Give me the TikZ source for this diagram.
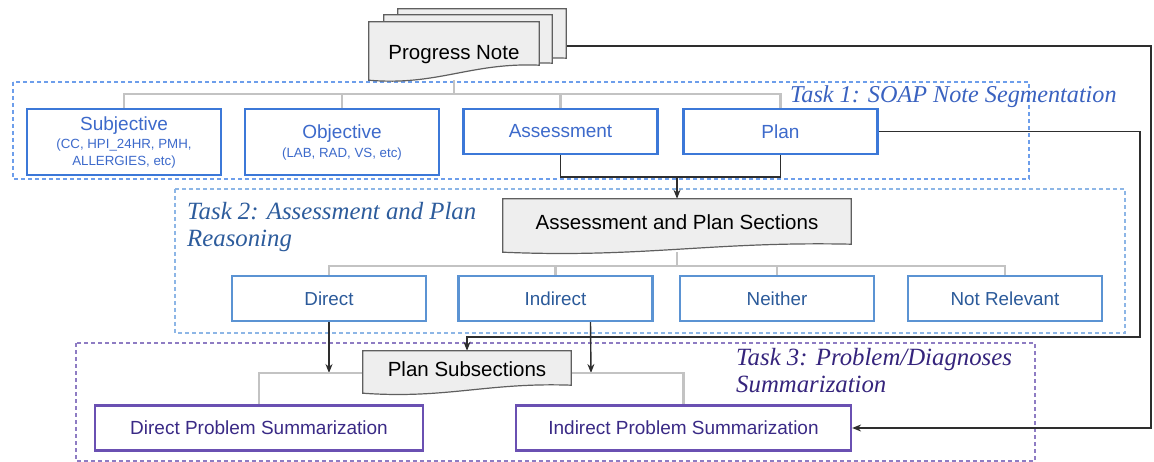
\documentclass[tikz,border=0pt]{standalone}
\usepackage{fontspec}
\setmainfont{Liberation Sans}
\newfontfamily\labfont{Liberation Serif}
\usetikzlibrary{arrows.meta,calc}
\pgfdeclarelayer{bglayer}
\pgfdeclarelayer{doclayer}
\pgfsetlayers{bglayer,doclayer,main}
\definecolor{tonefr}{HTML}{6D9EEB}
\definecolor{tonebox}{HTML}{3C78D8}
\definecolor{tonetx}{HTML}{3D6ACB}
\definecolor{tonelab}{HTML}{3A62C0}
\definecolor{ttwofr}{HTML}{8DB6E6}
\definecolor{ttwobox}{HTML}{5B93D3}
\definecolor{ttwotx}{HTML}{2B5A9A}
\definecolor{ttwolab}{HTML}{2D5C9C}
\definecolor{tthrfr}{HTML}{8E7CC3}
\definecolor{tthrbox}{HTML}{6A50B2}
\definecolor{tthrtx}{HTML}{3A2A86}
\definecolor{tthrlab}{HTML}{35247C}
\definecolor{greyline}{HTML}{C3C3C3}
\definecolor{docfill}{HTML}{EEEEEE}
\definecolor{docline}{HTML}{5F5F5F}
\definecolor{darkline}{HTML}{2E2E2E}
\newcommand{\docpath}[2]{(#1.north west) -- (#1.north east) -- ($(#1.south east)+(0,-#2)$) .. controls ($(#1.south east)!0.4!(#1.south west)+(0,-#2-3)$) and ($(#1.south west)!0.4!(#1.south east)+(0,6)$) .. (#1.south west) -- cycle}
\tikzset{
  docnode/.style={inner sep=0pt, text=black, font=\fontsize{20.5}{24}\selectfont},
  docshape/.style={fill=docfill, draw=docline, line width=1.2pt},
  oneb/.style={draw=tonebox, line width=2.6pt, fill=white, text=tonetx, minimum width=194pt, inner sep=0pt, align=center, font=\fontsize{19}{22}\selectfont},
  twob/.style={draw=ttwobox, line width=2.2pt, fill=white, text=ttwotx, minimum width=194pt, minimum height=45pt, inner sep=0pt, font=\fontsize{18.8}{22}\selectfont},
  thrb/.style={draw=tthrbox, line width=2.2pt, fill=white, text=tthrtx, minimum height=45pt, inner sep=0pt, font=\fontsize{19}{22}\selectfont},
  gline/.style={draw=greyline, line width=2.2pt},
  bline/.style={draw=darkline, line width=1.4pt},
  arr/.style={bline, -{Stealth[length=9pt,width=7pt]}},
  frame/.style={line width=1.3pt, dash pattern=on 4pt off 3pt},
  tasklab/.style={inner sep=0pt, align=left, font=\labfont\itshape\fontsize{24.8}{26.5}\selectfont},
}
\begin{document}
\begin{tikzpicture}[x=1pt,y=-1pt]
\useasboundingbox (0,0) rectangle (1154,462);
% Progress note stack
\node[docnode, minimum width=168pt, minimum height=62pt] (pn3) at (482,40) {};
\node[docnode, minimum width=168pt, minimum height=60pt] (pn2) at (468,45) {};
\node[docnode, minimum width=170pt, minimum height=58pt] (pn) at (454,51) {\raisebox{-3.5pt}[\height][\depth]{Progress Note}};
% Task 1 boxes
\node[oneb, minimum height=66pt] (subj) at (124,142) {\raisebox{-1pt}[\height][\depth]{Subjective}\\[-3pt]\fontsize{13.3}{16}\selectfont (CC, HPI\_24HR, PMH,\\[-5.5pt]\fontsize{13.3}{16}\selectfont ALLERGIES, etc)};
\node[oneb, minimum height=66pt] (obj) at (342,142) {Objective\\[-3pt]\fontsize{13.3}{16}\selectfont (LAB, RAD, VS, etc)};
\node[oneb, minimum height=45pt] (asmt) at (560.5,131.5) {Assessment};
\node[oneb, minimum height=45pt] (plan) at (780.5,131.5) {Plan};
% Task 2
\node[docnode, minimum width=348pt, minimum height=53pt] (aps) at (677,225.5) {\raisebox{3.5pt}[\height][\depth]{Assessment and Plan Sections}};
\node[twob] (dir) at (329,298.5) {Direct};
\node[twob] (ind) at (555.5,298.5) {Indirect};
\node[twob] (nei) at (777,298.5) {Neither};
\node[twob] (nrel) at (1005,298.5) {Not Relevant};
% Task 3
\node[docnode, minimum width=208pt, minimum height=42pt] (ps) at (467,372) {\raisebox{2.5pt}[\height][\depth]{Plan Subsections}};
\node[thrb, minimum width=328pt] (dps) at (259,428) {Direct Problem Summarization};
\node[thrb, minimum width=335pt] (ips) at (683.5,428) {Indirect Problem Summarization};
% labels
\node[tasklab, anchor=base west, text=tonelab, font=\labfont\itshape\fontsize{24.2}{26}\selectfont] (lab1) at (790,103) {Task 1: SOAP Note Segmentation};
\node[tasklab, anchor=north west, text=ttwolab] (lab2) at (187,202.2) {Task 2: Assessment and Plan\\Reasoning};
\node[tasklab, anchor=north west, text=tthrlab] (lab3) at (736,348.2) {Task 3: Problem/Diagnoses\\Summarization};
% coordinates
\coordinate (tonebus) at (454,94);
\coordinate (ttwobus) at (677,266);
\coordinate (join) at (677,177);
\coordinate (apl) at (780.5,177);
\coordinate (ca) at (329,373);
\coordinate (cb) at (591,373);
\coordinate (rtop) at (1151,46);
\coordinate (rmid) at (1140,337);
% doc shapes
\begin{pgfonlayer}{doclayer}
\filldraw[docshape] \docpath{pn3}{13};
\filldraw[docshape] \docpath{pn2}{12};
\filldraw[docshape] \docpath{pn}{15};
\filldraw[docshape] \docpath{aps}{8};
\filldraw[docshape] \docpath{ps}{8};
\end{pgfonlayer}
% frames and connectors
\begin{pgfonlayer}{bglayer}
\draw[frame, draw=tonefr] (13,82) rectangle (1029,179);
\draw[frame, draw=ttwofr] (175,189) rectangle (1125,333);
\draw[frame, draw=tthrfr] (76,343) rectangle (1035,461);
% task 1 tree
\draw[gline] (pn.south) -- (tonebus);
\draw[gline] (subj.north) |- (plan.north |- tonebus) -- (plan.north);
\draw[gline] (obj.north) -- (obj.north |- tonebus);
\draw[gline] (asmt.north) -- (asmt.north |- tonebus);
\draw[bline] (asmt.south) |- (apl) -- (plan.south);
\draw[arr] (join) -- (aps.north);
% task 2 tree
\draw[gline] (aps.south) -- (ttwobus);
\draw[gline] (dir.north) |- (nrel.north |- ttwobus) -- (nrel.north);
\draw[gline] (ind.north) -- (ind.north |- ttwobus);
\draw[gline] (nei.north) -- (nei.north |- ttwobus);
\draw[arr] (dir.south) -- (ca);
\draw[arr] ([xshift=35pt]ind.south) -- (cb);
% task 3 tree
\draw[gline] ([yshift=-1pt]ps.west) -| (dps.north);
\draw[gline] ([yshift=-1pt]ps.east) -| (ips.north);
% long routes
\draw[arr] (plan.east) -| (rmid) -| (ps.north);
\draw[arr] ([yshift=-6pt]pn3.east) -- (rtop) |- (ips.east);
\end{pgfonlayer}
\end{tikzpicture}
\end{document}
